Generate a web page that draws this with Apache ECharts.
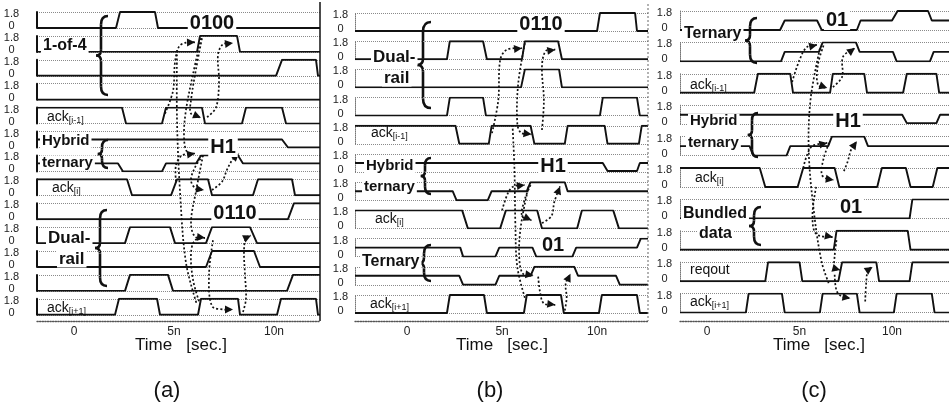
<!DOCTYPE html>
<html><head><meta charset="utf-8">
<script src="https://cdn.jsdelivr.net/npm/echarts@6/dist/echarts.min.js"></script>
<style>html,body{margin:0;padding:0;background:#fff}#c{width:949px;height:409px}</style>
</head><body><div id="c"></div>
<script>
// ---------------- data ----------------
const timeTicks = [0, 5, 10];
const timeTickLabels = ['0', '5n', '10n'];
const levelTickLabels = ['0', '1.8'];

// Panel (a): 1-of-4 -> hybrid ternary -> dual-rail   [time ns, volts]
const a_oneOfFour_3 = [[-1.85,0],[2.1,0],[2.3,1.8],[4.05,1.8],[4.2,0],[12.3,0]];
const a_oneOfFour_2 = [[-1.85,0],[6.15,0],[6.3,1.8],[8.15,1.8],[8.3,0],[12.3,0]];
const a_oneOfFour_1 = [[-1.85,0],[10.1,0],[10.4,1.8],[12.1,1.8],[12.2,0],[12.3,0]];
const a_oneOfFour_0 = [[-1.85,0],[12.3,0]];
const a_ackPrev = [[-1.85,1.8],[2.4,1.8],[2.6,0],[4.4,0],[4.6,1.8],[6.4,1.8],[6.55,0],[8.4,0],[8.6,1.8],[10.4,1.8],[10.6,0],[12.3,0]];
const a_hybrid_1 = [[-1.85,0.9],[10.4,0.9],[10.7,0],[12.3,0]];
const a_hybrid_0 = [[-1.85,0.9],[2.2,0.9],[2.45,0],[4.4,0],[4.6,0.9],[6.1,0.9],[6.35,1.8],[8.2,1.8],[8.45,0.9],[12.3,0.9]];
const a_ack = [[-1.85,1.8],[2.65,1.8],[2.9,0],[4.85,0],[5.15,1.8],[6.7,1.8],[6.9,0],[8.95,0],[9.2,1.8],[10.9,1.8],[11.05,0],[12.3,0]];
const a_dualRail_3 = [[-1.85,0],[10.7,0],[11.0,1.8],[12.3,1.8]];
const a_dualRail_2 = [[-1.85,0],[2.55,0],[2.8,1.8],[4.8,1.8],[5.05,0],[6.6,0],[6.9,1.8],[8.8,1.8],[9.15,0],[12.3,0]];
const a_dualRail_1 = [[-1.85,0],[6.6,0],[6.9,1.8],[9.0,1.8],[9.3,0],[12.3,0]];
const a_dualRail_0 = [[-1.85,0],[2.55,0],[2.8,1.8],[4.7,1.8],[4.95,0],[10.65,0],[10.95,1.8],[12.3,1.8]];
const a_ackNext = [[-1.85,0],[2.05,0],[2.25,1.8],[4.15,1.8],[4.3,0],[6.2,0],[6.35,1.8],[8.2,1.8],[8.3,0],[10.15,0],[10.35,1.8],[12.1,1.8],[12.2,0],[12.3,0]];

// Panel (b): dual-rail -> hybrid ternary -> ternary
const b_dualRail_3 = [[-2.74,0],[10.0,0],[10.15,1.8],[12.0,1.8],[12.1,0],[12.68,0]];
const b_dualRail_2 = [[-2.74,0],[2.1,0],[2.25,1.8],[4.0,1.8],[4.2,0],[6.05,0],[6.2,1.8],[7.95,1.8],[8.15,0],[12.68,0]];
const b_dualRail_1 = [[-2.74,0],[6.0,0],[6.2,1.8],[8.0,1.8],[8.15,0],[12.68,0]];
const b_dualRail_0 = [[-2.74,0],[2.1,0],[2.25,1.8],[4.0,1.8],[4.15,0],[10.15,0],[10.3,1.8],[12.1,1.8],[12.25,0],[12.68,0]];
const b_ackPrev = [[-2.74,1.8],[2.55,1.8],[2.75,0],[4.3,0],[4.45,1.8],[6.5,1.8],[6.7,0],[8.3,0],[8.45,1.8],[10.4,1.8],[10.55,0],[12.2,0],[12.35,1.8],[12.68,1.8]];
const b_hybrid_1 = [[-2.74,0.9],[10.3,0.9],[10.55,0.1],[12.1,0.1],[12.25,0.9],[12.68,0.9]];
const b_hybrid_0 = [[-2.74,0.9],[2.4,0.9],[2.6,0],[4.25,0],[4.45,0.9],[6.3,0.9],[6.5,1.8],[8.3,1.8],[8.45,0.9],[12.68,0.9]];
const b_ack = [[-2.74,1.8],[2.9,1.8],[3.2,0],[4.9,0],[5.2,1.8],[6.85,1.8],[7.1,0],[8.95,0],[9.2,1.8],[10.85,1.8],[11.15,0],[12.68,0]];
const b_ternary_1 = [[-2.74,0.9],[2.8,0.9],[2.95,0],[4.65,0],[4.85,0.9],[6.6,0.9],[6.8,0],[8.7,0],[8.9,0.9],[12.1,0.9],[12.3,1.8],[12.68,1.8]];
const b_ternary_0 = [[-2.74,0.9],[2.75,0.9],[2.95,0],[4.65,0],[4.85,0.9],[6.5,0.9],[6.7,1.8],[8.8,1.8],[9.0,0.9],[11.0,0.9],[11.2,0],[12.68,0]];
const b_ackNext = [[-2.74,0],[2.1,0],[2.25,1.8],[4.05,1.8],[4.2,0],[6.15,0],[6.3,1.8],[8.1,1.8],[8.25,0],[10.1,0],[10.25,1.8],[12.1,1.8],[12.25,0],[12.68,0]];

// Panel (c): ternary -> hybrid ternary -> bundled data
const c_ternary_1 = [[-1.46,0],[3.95,0],[4.2,0.9],[5.95,0.9],[6.2,0],[8.1,0],[8.3,0.9],[10.0,0.9],[10.3,1.8],[11.95,1.8],[12.15,0.9],[13.08,0.9]];
const c_ternary_0 = [[-1.46,0],[4.0,0],[4.2,0.9],[6.05,0.9],[6.25,1.8],[8.05,1.8],[8.25,0.9],[10.05,0.9],[10.25,0],[12.05,0],[12.25,0.9],[13.08,0.9]];
const c_ackPrev = [[-1.46,0],[2.55,0],[2.75,1.8],[4.5,1.8],[4.65,0],[6.65,0],[6.8,1.8],[8.5,1.8],[8.65,0],[10.6,0],[10.8,1.8],[12.4,1.8],[12.55,0],[13.08,0]];
const c_hybrid_1 = [[-1.46,0.9],[10.55,0.9],[10.8,0.1],[12.4,0.1],[12.6,0.9],[13.08,0.9]];
const c_hybrid_0 = [[-1.46,0.9],[2.3,0.9],[2.5,0],[4.3,0],[4.5,0.9],[6.55,0.9],[6.75,1.8],[8.5,1.8],[8.7,0.9],[13.08,0.9]];
const c_ack = [[-1.46,1.8],[2.85,1.8],[3.15,0],[4.9,0],[5.2,1.8],[6.9,1.8],[7.15,0],[9.2,0],[9.45,1.8],[10.75,1.8],[11.0,0],[12.2,0],[12.45,1.8],[13.08,1.8]];
const c_bundled_1 = [[-1.46,0],[10.95,0],[11.1,1.8],[13.08,1.8]];
const c_bundled_0 = [[-1.46,0],[6.85,0],[7.0,1.8],[10.85,1.8],[11.0,0],[13.08,0]];
const c_reqOut = [[-1.46,0],[3.15,0],[3.3,1.8],[5.0,1.8],[5.15,0],[7.1,0],[7.3,1.8],[9.15,1.8],[9.3,0],[10.95,0],[11.1,1.8],[13.08,1.8]];
const c_ackNext = [[-1.46,0],[2.1,0],[2.25,1.8],[4.05,1.8],[4.2,0],[6.1,0],[6.25,1.8],[8.1,1.8],[8.25,0],[10.1,0],[10.25,1.8],[12.15,1.8],[12.3,0],[13.08,0]];

// Causality arrows: points in [time ns, row position] (row k: 1.8 level at k)
const a_arrows = [
  {pts:[[4.55,4.25],[4.95,3.3],[5.05,2.1],[5.25,1.45],[5.6,1.28],[6.05,1.27]], head:true},
  {pts:[[6.65,4.4],[7.1,4.0],[7.25,2.9],[7.2,1.8],[7.45,1.35],[7.95,1.3]], head:true},
  {pts:[[6.4,1.1],[6.1,2.4],[5.85,3.7],[5.85,4.25],[6.35,4.42]], head:true},
  {pts:[[5.1,7.1],[5.1,6.4],[5.4,6.0],[6.05,5.92]], head:true},
  {pts:[[6.45,6.0],[6.05,6.5],[5.85,7.05],[6.1,7.4],[6.5,7.45]], head:true},
  {pts:[[6.9,7.45],[7.4,7.1],[7.65,6.6],[7.95,6.15],[8.25,5.92]], head:true},
  {pts:[[6.35,1.1],[5.95,2.6],[5.6,4.1],[5.5,5.2],[5.65,5.85],[6.05,5.92]], head:false},
  {pts:[[6.45,6.0],[6.1,7.5],[5.85,8.8],[6.05,9.4],[6.55,9.45]], head:true},
  {pts:[[6.25,12.1],[5.95,11.2],[5.85,10.1],[6.05,9.55],[6.55,9.45]], head:false},
  {pts:[[6.95,9.55],[6.75,11.0],[6.9,12.3],[7.5,12.45],[7.95,12.45]], head:true},
  {pts:[[8.45,12.55],[8.6,12.0],[8.55,11.0],[8.5,10.0],[8.6,9.45],[8.85,9.35]], head:true},
  {pts:[[5.15,1.6],[5.15,4.5],[5.3,7.5],[5.6,10.5],[6.15,12.25]], head:false}
];
const b_arrows = [
  {pts:[[4.47,4.26],[4.8,3.1],[4.9,1.67],[5.25,1.3],[6.05,1.25]], head:true},
  {pts:[[7.1,4.15],[7.2,3.1],[7.1,1.9],[7.3,1.35],[7.8,1.3]], head:true},
  {pts:[[6.2,1.07],[5.85,2.5],[5.8,3.9],[6.0,4.25],[6.55,4.3]], head:true},
  {pts:[[5.0,7.0],[5.3,6.4],[5.6,6.15],[6.2,6.1]], head:true},
  {pts:[[7.1,7.45],[7.6,7.2],[7.75,6.7],[8.05,6.15]], head:true},
  {pts:[[6.5,6.1],[6.2,6.6],[6.05,7.2],[6.55,7.35]], head:true},
  {pts:[[6.4,6.15],[6.0,7.5],[5.9,8.6],[6.1,9.25],[6.65,9.3]], head:true},
  {pts:[[8.3,10.55],[8.4,10.1],[8.35,9.6],[8.6,9.25]], head:true},
  {pts:[[6.9,9.35],[7.0,9.9],[7.2,10.3],[7.8,10.35]], head:true},
  {pts:[[6.2,10.1],[5.8,9.0],[5.7,7.5],[5.65,5.5],[5.55,4.0]], head:false}
];
const c_arrows = [
  {pts:[[4.6,2.26],[5.0,1.56],[5.4,1.15],[5.95,1.08]], head:true},
  {pts:[[6.3,1.1],[6.0,1.7],[6.0,2.35],[6.5,2.45]], head:true},
  {pts:[[6.8,2.42],[7.3,2.1],[7.35,1.46],[8.0,1.18]], head:true},
  {pts:[[6.1,1.2],[5.6,2.8],[5.5,4.5],[5.8,6.5],[6.2,8.0],[6.6,8.7]], head:false},
  {pts:[[5.2,5.0],[5.4,4.6],[5.7,4.3],[6.5,4.2]], head:true},
  {pts:[[7.4,5.1],[7.6,4.8],[7.8,4.4],[8.1,4.15]], head:true},
  {pts:[[6.6,4.2],[6.3,4.7],[6.2,5.2],[6.5,5.35],[6.85,5.38]], head:true},
  {pts:[[5.9,5.6],[5.7,6.5],[5.9,7.1],[6.8,7.2]], head:true},
  {pts:[[7.0,7.3],[6.9,7.8],[6.9,8.2],[7.2,8.25]], head:true},
  {pts:[[6.9,8.4],[7.0,8.9],[7.3,9.1],[7.75,9.15]], head:true},
  {pts:[[8.55,9.25],[8.6,8.7],[8.7,8.25],[8.95,8.15]], head:true}
];

// ---------------- layout ----------------
const FONT = '"Liberation Sans", Arial, sans-serif';
const AXIS_Y = 321;
const panels = [
  {left:37, width:283, tMin:-1.85, tMax:12.3, top0:12, pitch:23.9, h:16, labelX:11.5, solid:true,
   signals:[a_oneOfFour_3,a_oneOfFour_2,a_oneOfFour_1,a_oneOfFour_0,a_ackPrev,a_hybrid_1,a_hybrid_0,a_ack,a_dualRail_3,a_dualRail_2,a_dualRail_1,a_dualRail_0,a_ackNext],
   arrows:a_arrows},
  {left:355, width:293, tMin:-2.74, tMax:12.68, top0:13, pitch:28.2, h:18, labelX:340.5, solid:false,
   signals:[b_dualRail_3,b_dualRail_2,b_dualRail_1,b_dualRail_0,b_ackPrev,b_hybrid_1,b_hybrid_0,b_ack,b_ternary_1,b_ternary_0,b_ackNext],
   arrows:b_arrows},
  {left:680, width:269, tMin:-1.46, tMax:13.08, top0:11, pitch:31.4, h:19, labelX:664.5, solid:false,
   signals:[c_ternary_1,c_ternary_0,c_ackPrev,c_hybrid_1,c_hybrid_0,c_ack,c_bundled_1,c_bundled_0,c_reqOut,c_ackNext],
   arrows:c_arrows}
];

const grid = [], xAxis = [], yAxis = [], series = [];
panels.forEach(p => {
  p.signals.forEach((sig, k) => {
    const gi = grid.length;
    grid.push({left:p.left, top:p.top0 + k*p.pitch, width:p.width, height:p.h});
    xAxis.push({type:'value', gridIndex:gi, min:p.tMin, max:p.tMax, show:false, axisLine:{onZero:false}});
    yAxis.push({type:'value', gridIndex:gi, min:0, max:1.8, interval:1.8,
      axisLine:{show:true, onZero:false, lineStyle: p.solid ? {color:'#111', width:2} : {color:'#777', width:1, type:'dotted'}},
      axisTick:{show:false},
      splitLine:{show:true, lineStyle:{type:'dotted', color:'#8a8a8a', width:1}},
      axisLabel:{show:true, showMinLabel:true, showMaxLabel:true, margin:p.left - p.labelX, align:'center',
        fontSize:11, color:'#222', fontFamily:FONT,
        formatter: v => (v < 0.9 ? '{lo|' + levelTickLabels[0] + '}' : '{hi|' + levelTickLabels[1] + '}'),
        rich:{hi:{fontSize:11, color:'#222', fontFamily:FONT, padding:[4,0,0,0]},
              lo:{fontSize:11, color:'#222', fontFamily:FONT, padding:[0,0,4,0]}}}
    });
    series.push({type:'line', xAxisIndex:gi, yAxisIndex:gi, data:sig, showSymbol:false, symbol:'none',
      lineStyle:{color:'#111', width:1.9}, silent:true, animation:false, z:3});
  });
  // overlay grid for time axis and causality arrows
  const gi = grid.length;
  const rMax = (AXIS_Y - p.top0) / p.pitch;
  grid.push({left:p.left, top:p.top0, width:p.width, height:AXIS_Y - p.top0});
  xAxis.push({type:'value', gridIndex:gi, min:p.tMin, max:p.tMax, position:'bottom',
    axisLine:{show:true, onZero:false, lineStyle:{color:'#555', width:1.3, type:'dotted'}},
    axisTick:{show:false}, splitLine:{show:false},
    axisLabel:{show:true, customValues:timeTicks, margin:5, fontSize:12, color:'#222', fontFamily:FONT,
      formatter: v => timeTickLabels[timeTicks.indexOf(v)]}});
  yAxis.push({type:'value', gridIndex:gi, min:0, max:rMax, inverse:true, show:false, axisLine:{onZero:false}});
  const arrows = p.arrows;
  series.push({type:'custom', xAxisIndex:gi, yAxisIndex:gi, coordinateSystem:'cartesian2d', silent:true,
    animation:false, z:6, clip:false,
    data: arrows.map(a => a.pts[0]),
    renderItem: (params, api) => {
      const a = arrows[params.dataIndex];
      const pts = a.pts.map(q => api.coord(q));
      const children = [{type:'polyline', shape:{points:pts, smooth:0.35},
        style:{stroke:'#111', lineWidth:1.7, lineDash:[2,2.2], fill:null}}];
      if (a.head) {
        const e = pts[pts.length-1], s = pts[pts.length-2];
        let dx = e[0]-s[0], dy = e[1]-s[1]; const L = Math.hypot(dx,dy) || 1; dx/=L; dy/=L;
        const px = -dy, py = dx, len = 8, wid = 4;
        children.push({type:'polygon', shape:{points:[e,[e[0]-dx*len+px*wid, e[1]-dy*len+py*wid],[e[0]-dx*len-px*wid, e[1]-dy*len-py*wid]]},
          style:{fill:'#111'}});
      }
      return {type:'group', children};
    }});
});

// ---------------- annotations ----------------
function txt(x, y, text, size, weight, align, bg) {
  return {type:'text', x, y, z:100, silent:true,
    style:{text, fontSize:size, fontWeight:weight || 'bold', fontFamily:FONT, fill:'#111',
      align:align || 'left', verticalAlign:'middle', backgroundColor:bg || null, padding: bg ? [0,2] : 0}};
}
function ack(x, y, sub) {
  return {type:'text', x, y, z:100, silent:true,
    style:{text:'{m|ack}{s|' + sub + '}', fontFamily:FONT, fill:'#111', align:'left', verticalAlign:'middle',
      rich:{m:{fontSize:14, fontFamily:FONT, fill:'#111', lineHeight:16},
            s:{fontSize:9, fontFamily:FONT, fill:'#111', lineHeight:16, verticalAlign:'bottom'}}}};
}
function brace(x, y1, y2, w) {
  const ym = (y1 + y2) / 2;
  const st = {stroke:'#111', lineWidth:2.6, fill:null};
  const seg = (shape, type) => ({type, silent:true, shape, style:st});
  return {type:'group', z:100, silent:true, children:[
    seg({x1:x+w, y1:y1, cpx1:x, cpy1:y1, x2:x, y2:y1+w*1.2}, 'bezierCurve'),
    seg({x1:x, y1:y1+w*1.2, x2:x, y2:ym-w*0.8}, 'line'),
    seg({x1:x, y1:ym-w*0.8, cpx1:x, cpy1:ym, x2:x-w*0.7, y2:ym}, 'bezierCurve'),
    seg({x1:x-w*0.7, y1:ym, cpx1:x, cpy1:ym, x2:x, y2:ym+w*0.8}, 'bezierCurve'),
    seg({x1:x, y1:ym+w*0.8, x2:x, y2:y2-w*1.2}, 'line'),
    seg({x1:x, y1:y2-w*1.2, cpx1:x, cpy1:y2, x2:x+w, y2:y2}, 'bezierCurve')
  ]};
}
const W = '#fff';
const graphic = [
  // panel frames
  {type:'line', z:50, silent:true, shape:{x1:320, y1:2, x2:320, y2:AXIS_Y}, style:{stroke:'#111', lineWidth:1.5}},
  {type:'line', z:50, silent:true, shape:{x1:648, y1:4, x2:648, y2:AXIS_Y}, style:{stroke:'#666', lineWidth:1, lineDash:[2,2]}},
  // panel (a)
  txt(41, 46, '1-of-4', 16, 'bold', 'left', W), brace(101, 16, 95, 7),
  txt(212, 23, '0100', 20, 'bold', 'center', W),
  ack(47, 117, '[i-1]'),
  txt(40, 141, 'Hybrid', 15, 'bold', 'left', W), txt(40, 163, 'ternary', 15, 'bold', 'left', W), brace(102, 140, 168, 6),
  txt(223, 147, 'H1', 20, 'bold', 'center', W),
  ack(52, 188, '[i]'),
  txt(46, 238, 'Dual-', 17, 'bold', 'left', W), txt(57, 259, 'rail', 17, 'bold', 'left', W), brace(100, 210, 286, 7),
  txt(235, 213, '0110', 20, 'bold', 'center', W),
  ack(47, 308, '[i+1]'),
  txt(181, 345, 'Time   [sec.]', 17, 'normal', 'center'),
  txt(167, 391, '(a)', 22, 'normal', 'center'),
  // panel (b)
  txt(371, 57, 'Dual-', 17, 'bold', 'left', W), txt(382, 78, 'rail', 17, 'bold', 'left', W), brace(423, 22, 108, 8),
  txt(541, 24, '0110', 20, 'bold', 'center', W),
  ack(371, 133, '[i-1]'),
  txt(364, 166, 'Hybrid', 15, 'bold', 'left', W), txt(362, 187, 'ternary', 15, 'bold', 'left', W), brace(425, 158, 194, 6),
  txt(553, 166, 'H1', 20, 'bold', 'center', W),
  ack(375, 219, '[i]'),
  txt(360, 262, 'Ternary', 16, 'bold', 'left', W), brace(424, 245, 281, 7),
  txt(553, 245, '01', 20, 'bold', 'center', W),
  ack(370, 304, '[i+1]'),
  txt(502, 345, 'Time   [sec.]', 17, 'normal', 'center'),
  txt(490, 391, '(b)', 22, 'normal', 'center'),
  // panel (c)
  txt(682, 34, 'Ternary', 16, 'bold', 'left', W), brace(750, 18, 63, 7),
  txt(837, 20, '01', 20, 'bold', 'center', W),
  ack(690, 85, '[i-1]'),
  txt(688, 121, 'Hybrid', 15, 'bold', 'left', W), txt(686, 143, 'ternary', 15, 'bold', 'left', W), brace(752, 113, 157, 6),
  txt(848, 121, 'H1', 20, 'bold', 'center', W),
  ack(695, 178, '[i]'),
  txt(681, 214, 'Bundled', 16, 'bold', 'left', W), txt(697, 234, 'data', 16, 'bold', 'left', W), brace(754, 207, 245, 7),
  txt(851, 207, '01', 20, 'bold', 'center', W),
  txt(690, 270, 'reqout', 14, 'normal', 'left'),
  ack(690, 302, '[i+1]'),
  txt(819, 345, 'Time   [sec.]', 17, 'normal', 'center'),
  txt(814, 391, '(c)', 22, 'normal', 'center')
];

const chart = echarts.init(document.getElementById('c'), null, {renderer:'canvas', width:949, height:409});
chart.setOption({backgroundColor:'#fff', animation:false, grid, xAxis, yAxis, series, graphic});
</script></body></html>
